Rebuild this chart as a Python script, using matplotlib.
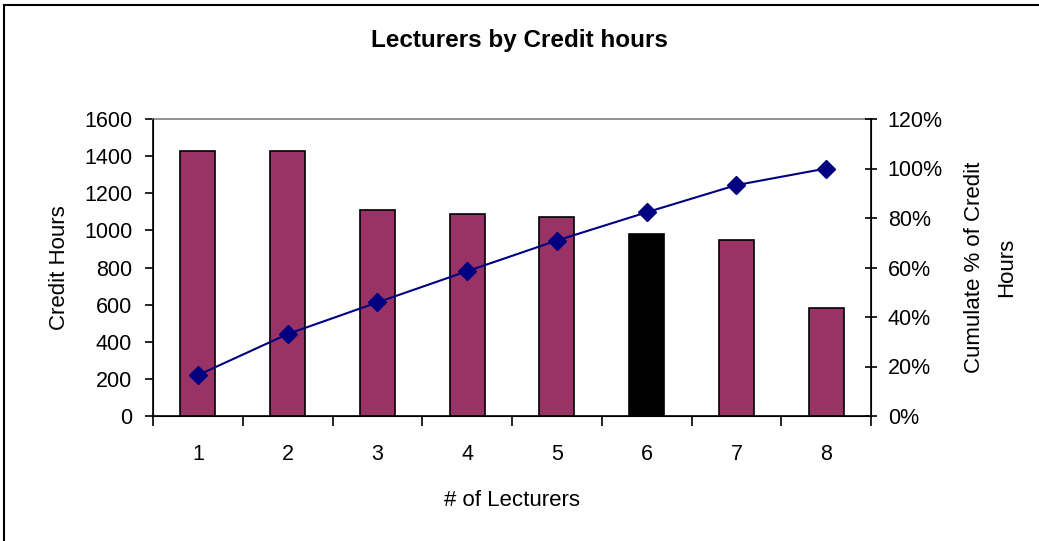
import matplotlib.pyplot as plt
from matplotlib.patches import Rectangle
from matplotlib.ticker import FixedLocator

plt.rcParams['font.family'] = ['Liberation Sans', 'DejaVu Sans']

# データ
lecturers = [1, 2, 3, 4, 5, 6, 7, 8]
credit_hours = [1428, 1428, 1110, 1087, 1074, 982, 946, 582]
cumulative_pct = [16.5, 33.1, 45.9, 58.5, 70.9, 82.3, 93.3, 100.0]
bar_colors = ['#993366'] * 5 + ['#000000'] + ['#993366'] * 2

fig = plt.figure(figsize=(10.39, 5.41), dpi=100)
ax = fig.add_axes([153 / 1039, 1 - 416 / 541, (871 - 153) / 1039, (416 - 119) / 541])

# 棒グラフ
ax.bar(lecturers, credit_hours, width=0.39, color=bar_colors, edgecolor='black', linewidth=1.2, zorder=2)
ax.set_xlim(0.5, 8.5)
ax.set_ylim(0, 1600)
ax.set_yticks(range(0, 1601, 200))
ax.set_xticks(lecturers)
ax.xaxis.set_minor_locator(FixedLocator([x + 0.5 for x in range(0, 9)]))
ax.tick_params(axis='x', which='major', length=0, labelsize=15.5, pad=20)
ax.tick_params(axis='x', which='minor', length=7, width=1.2, direction='out')
ax.tick_params(axis='y', length=6, width=1.2, direction='out', labelsize=15.5, pad=9)
ax.set_xlabel('# of Lecturers', fontsize=16, labelpad=18)
ax.set_ylabel('Credit Hours', fontsize=16, labelpad=10)
ax.spines['top'].set_color('#808080')
ax.spines['top'].set_linewidth(1.2)
for s in ['left', 'bottom']:
    ax.spines[s].set_linewidth(1.2)

# 累積割合（第2軸）
ax2 = ax.twinx()
ax2.plot(lecturers, cumulative_pct, color='#000080', linewidth=1.5, marker='D', markersize=9, zorder=3)
ax2.set_ylim(0, 120)
ax2.set_yticks(range(0, 121, 20))
ax2.set_yticklabels([f'{v}%' for v in range(0, 121, 20)])
ax2.tick_params(axis='y', length=8, width=1.2, direction='inout', labelsize=15.5, pad=8)
ax2.set_ylabel('Cumulate % of Credit\nHours', fontsize=16, labelpad=15, linespacing=1.7)
ax2.spines['right'].set_linewidth(1.2)
ax2.spines['top'].set_visible(False)

fig.text(0.5, 1 - 41 / 541, 'Lecturers by Credit hours', ha='center', va='center',
         fontsize=17.5, fontweight='bold')

# 外枠
fig.patches.append(Rectangle((4 / 1039, -0.1), 2, 1.1 - 5 / 541, transform=fig.transFigure,
                             fill=False, edgecolor='black', linewidth=1.5))

plt.savefig('out.png', dpi=100)
